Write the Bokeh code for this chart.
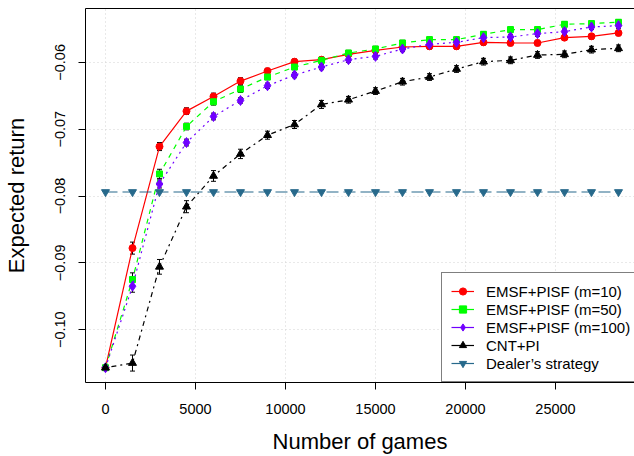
from bokeh.plotting import figure
from bokeh.models import (ColumnDataSource, Range1d, FixedTicker, LinearAxis, Legend, LegendItem,
                          Whisker, TeeHead, CustomJSTickFormatter)
from bokeh.embed import file_html
from bokeh.resources import INLINE

games = [0, 1500, 3000, 4500, 6000, 7500, 9000, 10500, 12000, 13500,
         15000, 16500, 18000, 19500, 21000, 22500, 24000, 25500, 27000, 28500]

emsf_m10 = [-0.1057, -0.0878, -0.0726, -0.0673, -0.0651, -0.0628, -0.0613, -0.0599, -0.0596, -0.0588,
            -0.0582, -0.0577, -0.0576, -0.0576, -0.0570, -0.0571, -0.0571, -0.0563, -0.0561, -0.0556]
emsf_m50 = [-0.1057, -0.0925, -0.0767, -0.0696, -0.0659, -0.0640, -0.0622, -0.0607, -0.0597, -0.0586,
            -0.0580, -0.0571, -0.0566, -0.0566, -0.0558, -0.0551, -0.0551, -0.0543, -0.0542, -0.0540]
emsf_m100 = [-0.1057, -0.0935, -0.0782, -0.0720, -0.0681, -0.0657, -0.0635, -0.0619, -0.0607, -0.0596,
             -0.0591, -0.0580, -0.0573, -0.0570, -0.0563, -0.0562, -0.0557, -0.0554, -0.0547, -0.0545]
cnt_pi = [-0.1057, -0.1050, -0.0906, -0.0816, -0.0770, -0.0737, -0.0709, -0.0693, -0.0663, -0.0656,
          -0.0643, -0.0629, -0.0622, -0.0610, -0.0599, -0.0597, -0.0589, -0.0588, -0.0581, -0.0579]
dealer = [-0.0794, -0.0794, -0.0794, -0.0794, -0.0794, -0.0794, -0.0794, -0.0794, -0.0794, -0.0794,
          -0.0794, -0.0794, -0.0794, -0.0794, -0.0794, -0.0794, -0.0794, -0.0794, -0.0794, -0.0794]

err_m10 = [0.0003, 0.0009, 0.0006, 0.0005, 0.0005, 0.0005, 0.0004, 0.0004, 0.0004, 0.0004,
           0.0004, 0.0004, 0.0004, 0.0004, 0.0004, 0.0004, 0.0004, 0.0004, 0.0004, 0.0004]
err_m50 = [0.0003, 0.0010, 0.0007, 0.0005, 0.0005, 0.0005, 0.0004, 0.0004, 0.0004, 0.0004,
           0.0004, 0.0004, 0.0004, 0.0004, 0.0004, 0.0004, 0.0004, 0.0004, 0.0004, 0.0004]
err_m100 = [0.0003, 0.0009, 0.0006, 0.0005, 0.0005, 0.0004, 0.0004, 0.0004, 0.0004, 0.0004,
            0.0004, 0.0004, 0.0004, 0.0004, 0.0004, 0.0004, 0.0004, 0.0004, 0.0004, 0.0004]
err_cnt = [0.0003, 0.0012, 0.0011, 0.0009, 0.0008, 0.0007, 0.0006, 0.0006, 0.0006, 0.0005,
           0.0005, 0.0005, 0.0005, 0.0005, 0.0005, 0.0005, 0.0005, 0.0005, 0.0005, 0.0005]

x_ticks = [0, 5000, 10000, 15000, 20000, 25000]
y_ticks = [-0.10, -0.09, -0.08, -0.07, -0.06]

labels = ["EMSF+PISF (m=10)", "EMSF+PISF (m=50)", "EMSF+PISF (m=100)", "CNT+PI", "Dealer\u2019s strategy"]

FONT = "Liberation Sans"

p = figure(width=634, height=456, output_backend="svg", toolbar_location=None,
           x_range=Range1d(-1111, 29389), y_range=Range1d(-0.10791, -0.05194),
           x_axis_location=None, y_axis_location=None,
           min_border_left=85, min_border_right=0, min_border_top=8, min_border_bottom=73)
p.outline_line_color = None
p.background_fill_color = "white"
p.border_fill_color = "white"

xaxis = LinearAxis(ticker=FixedTicker(ticks=x_ticks),
                   formatter=CustomJSTickFormatter(code="return tick.toFixed(0);"),
                   axis_label="Number of games")
yaxis = LinearAxis(ticker=FixedTicker(ticks=y_ticks),
                   formatter=CustomJSTickFormatter(code="return (tick < 0 ? '\\u2212' : '') + Math.abs(tick).toFixed(2);"),
                   axis_label="Expected return")
topaxis = LinearAxis(ticker=FixedTicker(ticks=[]), major_label_text_font_size="0px")
for ax in (xaxis, yaxis):
    ax.axis_line_color = "black"
    ax.axis_line_width = 1
    ax.major_tick_in = 0
    ax.major_tick_out = 7
    ax.major_tick_line_color = "black"
    ax.minor_tick_line_color = None
    ax.major_label_text_font = FONT
    ax.major_label_text_font_size = "14.5px"
    ax.major_label_text_color = "black"
    ax.axis_label_text_font = FONT
    ax.axis_label_text_font_size = "22px"
    ax.axis_label_text_font_style = "normal"
    ax.axis_label_text_color = "black"
xaxis.major_label_standoff = 14
xaxis.axis_label_standoff = 12
yaxis.major_label_orientation = "vertical"
yaxis.major_label_standoff = 13
yaxis.axis_label_standoff = 24
topaxis.axis_line_color = "black"
topaxis.major_tick_line_color = None
topaxis.minor_tick_line_color = None
p.add_layout(xaxis, "below")
p.add_layout(yaxis, "left")
p.add_layout(topaxis, "above")

p.xgrid.ticker = FixedTicker(ticks=x_ticks)
p.ygrid.ticker = FixedTicker(ticks=y_ticks)
for g in (p.xgrid, p.ygrid):
    g.grid_line_color = "#D3D3D3"
    g.grid_line_dash = "1 3"
    g.grid_line_width = 1

src = ColumnDataSource(dict(x=games, m10=emsf_m10, m50=emsf_m50, m100=emsf_m100, cnt=cnt_pi, dealer=dealer,
                            e10=err_m10, e50=err_m50, e100=err_m100, ecnt=err_cnt))
for col, err in (("m10", "e10"), ("m50", "e50"), ("m100", "e100"), ("cnt", "ecnt")):
    src.data[col + "_lo"] = [v - e for v, e in zip(src.data[col], src.data[err])]
    src.data[col + "_hi"] = [v + e for v, e in zip(src.data[col], src.data[err])]

specs = [
    ("m10", "#FF0000", "solid", "circle", 7),
    ("m50", "#00FF00", "5 5", "square", 6),
    ("m100", "#7000FF", "2 4", "diamond", 10),
    ("cnt", "black", "2 4 5 4", "triangle", 8),
    ("dealer", "#27698B", "12 5", "inverted_triangle", 8),
]

items = []
for (col, color, dash, marker, size), lab in zip(specs, labels):
    p.line("x", col, source=src, line_color=color, line_width=1.2, line_dash=dash)
    sc = p.scatter("x", col, source=src, marker=marker, size=size, fill_color=color, line_color=color)
    if col != "dealer":
        w = Whisker(base="x", upper=col + "_hi", lower=col + "_lo", source=src,
                    line_color="black", line_width=1,
                    upper_head=TeeHead(size=5, line_color="black", line_width=1),
                    lower_head=TeeHead(size=5, line_color="black", line_width=1))
        p.add_layout(w)
    # solid line sample for the legend only (no drawable data)
    lg = p.line(x=[float("nan")], y=[float("nan")], line_color=color, line_width=1.2)
    items.append(LegendItem(label=lab, renderers=[lg, sc]))

legend = Legend(items=items, location=(356, 0), orientation="vertical",
                label_text_font=FONT, label_text_font_size="15px", label_text_color="black",
                glyph_width=23, glyph_height=18, label_height=18, label_standoff=12,
                spacing=0, padding=9, margin=0,
                border_line_color="black", border_line_width=1,
                background_fill_color="white", background_fill_alpha=1.0)
p.add_layout(legend, "center")

open("out.html", "w").write(file_html(p, INLINE))
